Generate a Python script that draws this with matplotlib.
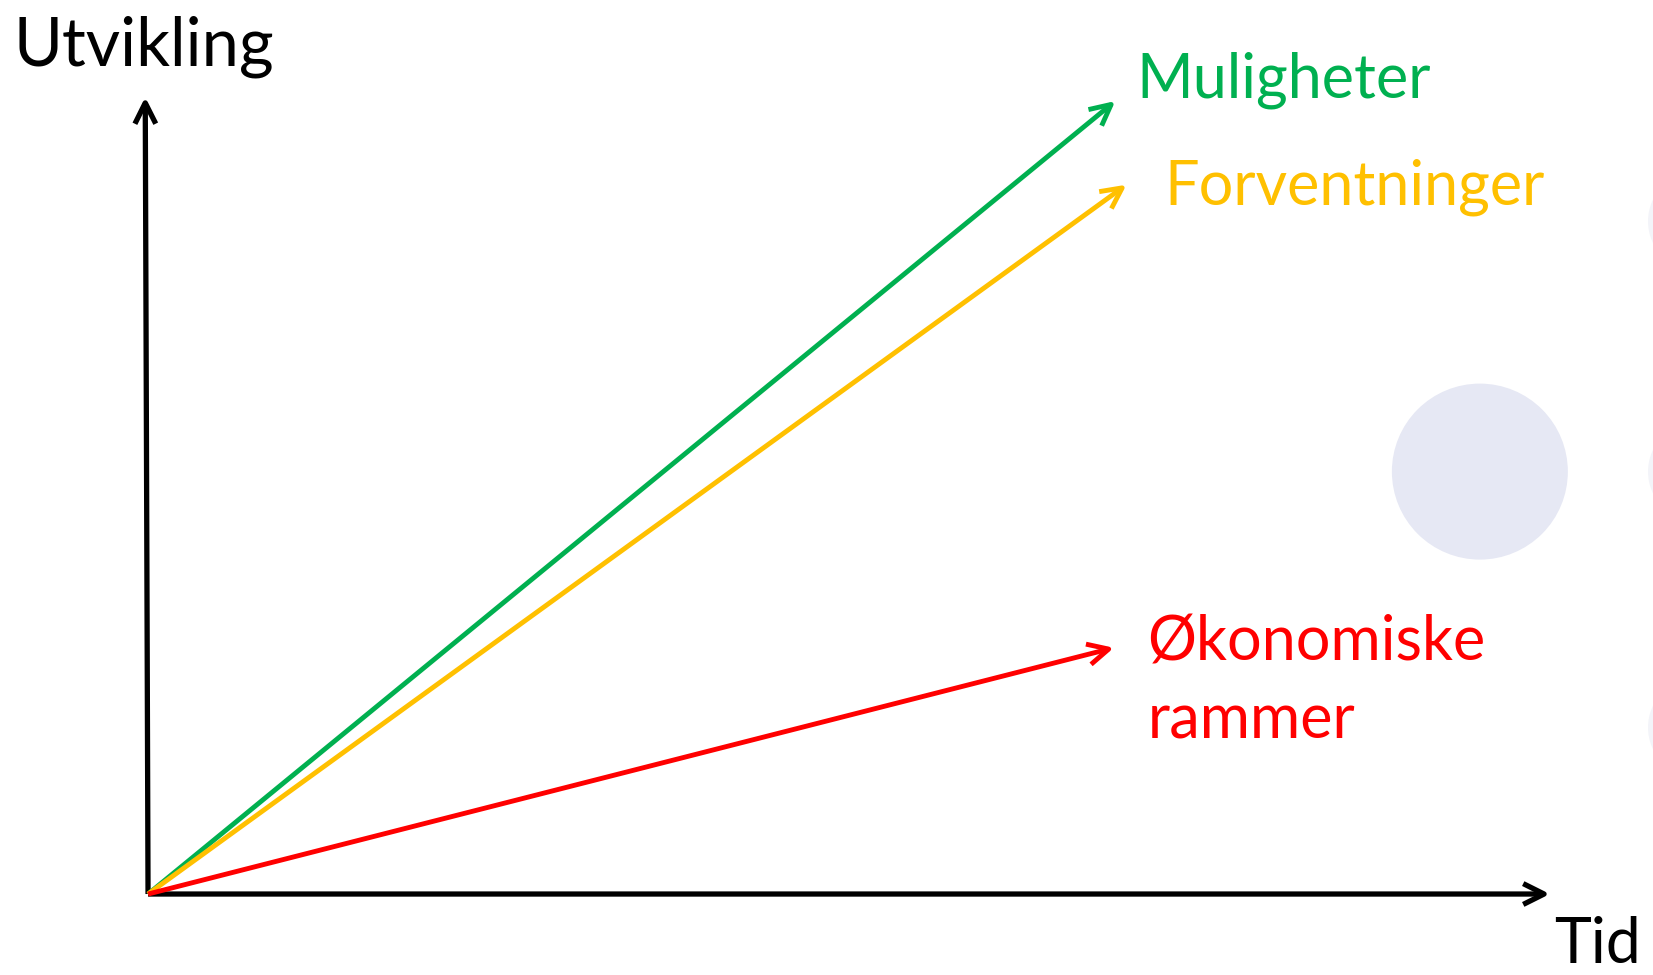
import matplotlib.pyplot as plt
from matplotlib.patches import Ellipse

plt.rcParams['font.family'] = ['Lato', 'DejaVu Sans']

# Data: arrow end points (time, development) from the origin
series      = ["Muligheter", "Forventninger", "Økonomiske\nrammer"]
colors      = ["#00B050", "#FFC000", "#FF0000"]
end_time    = [6.90, 6.98, 6.89]
end_dev     = [9.95, 8.90, 3.09]
axis_max    = 10.0

# label anchors (data coords)
label_pos   = [(7.05, 10.21), (7.25, 8.87), (7.13, 2.66)]

fig = plt.figure(figsize=(16.53, 9.75), dpi=100)
ax = fig.add_axes([0, 0, 1, 1])
ax.set_xlim(-1.056, 10.735)
ax.set_ylim(-1.016, 11.217)
ax.axis("off")

# decorative circles (x and y scales differ -> ellipse in data units)
sx, sy = 140.2, 79.7   # px per data unit
ax.add_patch(Ellipse((9.5, 5.30), 2 * 88 / sx, 2 * 88 / sy, color="#E6E8F4", lw=0))
for cy in [8.44, 5.30, 2.09]:
    ax.add_patch(Ellipse((10.735 + 45 / sx, cy), 2 * 50 / sx, 2 * 50 / sy,
                         color="#F3F4F9", lw=0))

def arrow(x0, y0, x1, y1, color, lw):
    ax.annotate("", xy=(x1, y1), xytext=(x0, y0),
                arrowprops=dict(arrowstyle="->,head_length=1.5,head_width=0.75",
                                color=color, lw=lw, shrinkA=0, shrinkB=0,
                                capstyle="butt"))

# axes
arrow(0, 0, axis_max, 0, "black", 3.8)
arrow(0, 0, -0.02, axis_max, "black", 3.8)

for name, c, t, d, (lx, ly) in zip(series, colors, end_time, end_dev, label_pos):
    arrow(0, 0, t, d, c, 3.5)
    ax.text(lx, ly, name, color=c, fontsize=44, va="center", ha="left",
            linespacing=1.47)

ax.text(-0.96, 10.63, "Utvikling", fontsize=48, va="center", ha="left")
ax.text(10.03, -0.64, "Tid", fontsize=45, va="center", ha="left")

fig.savefig("out.png", dpi=100)
